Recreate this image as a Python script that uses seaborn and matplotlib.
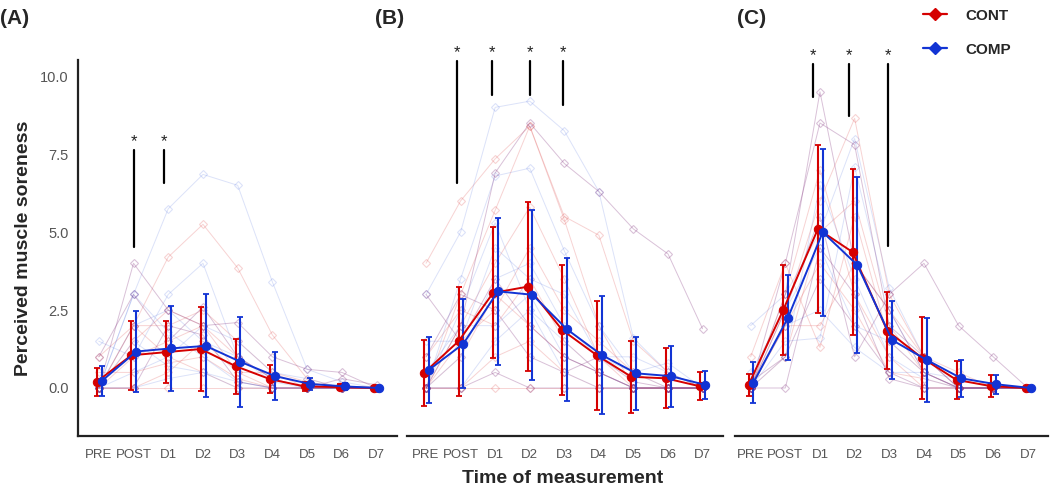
import numpy as np
import pandas as pd
import matplotlib.pyplot as plt
from matplotlib.lines import Line2D
import seaborn as sns

# time points
times = ["PRE", "POST", "D1", "D2", "D3", "D4", "D5", "D6", "D7"]
panels = ["(A)", "(B)", "(C)"]

# group means and SDs
cont_mean_a = [0.2, 1.05, 1.15, 1.25, 0.7, 0.28, 0.05, 0.03, 0.0]
cont_sd_a = [0.45, 1.1, 1.0, 1.35, 0.88, 0.45, 0.15, 0.1, 0.05]
comp_mean_a = [0.22, 1.17, 1.27, 1.35, 0.84, 0.38, 0.13, 0.05, 0.0]
comp_sd_a = [0.48, 1.3, 1.37, 1.65, 1.45, 0.78, 0.18, 0.12, 0.05]

cont_mean_b = [0.48, 1.5, 3.05, 3.25, 1.86, 1.05, 0.36, 0.31, 0.05]
cont_sd_b = [1.05, 1.75, 2.1, 2.7, 2.08, 1.75, 1.15, 0.96, 0.45]
comp_mean_b = [0.58, 1.42, 3.1, 2.99, 1.88, 1.06, 0.47, 0.38, 0.1]
comp_sd_b = [1.06, 1.42, 2.36, 2.72, 2.3, 1.88, 1.17, 0.98, 0.45]

cont_mean_c = [0.1, 2.5, 5.1, 4.36, 1.84, 0.97, 0.26, 0.06, 0.0]
cont_sd_c = [0.35, 1.45, 2.68, 2.65, 1.24, 1.32, 0.62, 0.36, 0.03]
comp_mean_c = [0.17, 2.26, 5.0, 3.94, 1.54, 0.9, 0.31, 0.12, 0.0]
comp_sd_c = [0.65, 1.36, 2.68, 2.82, 1.25, 1.36, 0.6, 0.3, 0.03]

# individual participants (CONT red, COMP blue, overlapping ones purple)
indiv_cont_a = [
    [0, 2.0, 4.2, 5.25, 3.85, 1.7, 0.3, 0, 0],
    [1.0, 2.0, 2.0, 2.5, 1.5, 0.5, 0, 0, 0],
    [0, 1.0, 1.5, 2.0, 1.0, 0.3, 0, 0, 0],
    [0, 0, 0.5, 1.5, 0.5, 0, 0, 0, 0],
    [0, 2.0, 1.0, 0.5, 0, 0, 0, 0, 0],
    [0.5, 0.5, 0.8, 1.0, 0.3, 0, 0, 0, 0],
    [0, 1.5, 2.5, 2.0, 0.5, 0.5, 0.2, 0, 0],
    [0, 0, 0, 0, 0, 0, 0, 0, 0],
]
indiv_comp_a = [
    [0, 3.0, 5.75, 6.85, 6.5, 3.4, 0.6, 0.2, 0],
    [1.5, 1.0, 3.0, 4.0, 1.0, 0.2, 0, 0, 0],
    [0, 3.0, 1.8, 1.0, 0.2, 0, 0, 0, 0],
    [0, 0.5, 1.0, 2.0, 1.5, 0.5, 0.3, 0, 0],
    [0, 1.5, 0.7, 0.5, 0, 0, 0, 0, 0],
    [0, 0, 0.3, 0.5, 0.2, 0, 0, 0, 0],
    [0, 2.0, 2.5, 1.5, 1.0, 0.3, 0, 0, 0],
]
indiv_mix_a = [
    [0, 4.0, 2.5, 2.0, 2.1, 1.0, 0.6, 0.5, 0],
    [1.0, 3.0, 1.5, 2.6, 1.0, 0.3, 0, 0.3, 0.1],
    [0, 0, 2.0, 1.7, 0.2, 0, 0, 0, 0],
]

indiv_cont_b = [
    [4.0, 6.0, 7.35, 8.4, 5.5, 4.9, 1.5, 0.5, 0],
    [0, 3.0, 5.7, 8.4, 5.4, 2.0, 0, 0, 0],
    [0, 2.0, 4.0, 5.8, 3.5, 1.0, 0, 0, 0],
    [0, 1.0, 3.0, 2.0, 1.0, 0.5, 0, 0, 0],
    [1.0, 2.5, 2.0, 3.5, 1.5, 0.5, 0, 0, 0],
    [0, 0, 1.0, 1.5, 0.5, 0, 0, 0, 0],
    [0, 1.5, 2.5, 4.5, 2.5, 1.5, 0.5, 0, 0],
    [0, 0, 0, 0, 0, 0, 0, 0, 0],
]
indiv_comp_b = [
    [3.0, 5.0, 9.0, 9.2, 8.25, 6.3, 1.6, 0.5, 0],
    [0, 3.5, 6.8, 7.05, 4.4, 2.0, 0.5, 0, 0],
    [0, 2.5, 5.3, 2.5, 1.5, 0.5, 0, 0, 0],
    [0, 1.0, 3.5, 4.0, 2.0, 1.0, 0.5, 0.8, 0],
    [0.5, 2.0, 2.0, 3.0, 1.0, 0.5, 0, 0, 0],
    [0, 0, 1.5, 2.5, 0.5, 0, 0, 0, 0],
    [1.5, 1.5, 4.5, 3.5, 3.0, 1.0, 1.0, 0.5, 0],
]
indiv_mix_b = [
    [0, 2.0, 6.9, 8.5, 7.2, 6.3, 5.1, 4.3, 1.9],
    [1.0, 3.0, 2.5, 1.0, 0.5, 1.0, 0.2, 0, 0],
    [0, 0, 0.5, 0, 0, 0, 0, 0, 0],
    [3.0, 1.5, 3.5, 2.0, 1.0, 0.5, 0, 0, 0],
]

indiv_cont_c = [
    [0, 2.5, 6.0, 8.65, 3.0, 1.0, 0, 0, 0],
    [1.0, 4.0, 1.3, 5.5, 1.5, 0.5, 0, 0, 0],
    [0, 2.0, 2.0, 4.0, 2.5, 1.0, 0.5, 0, 0],
    [0, 3.0, 7.0, 3.0, 1.0, 0, 0, 0, 0],
    [0, 1.0, 5.0, 6.0, 2.0, 0.5, 0, 0, 0],
    [0, 2.0, 4.0, 2.5, 0.5, 0.3, 0, 0, 0],
]
indiv_comp_c = [
    [2.0, 3.0, 5.0, 8.0, 3.2, 1.0, 0, 0, 0],
    [0, 1.5, 1.6, 7.1, 2.5, 0.5, 0, 0, 0],
    [0, 2.0, 2.5, 1.3, 0.5, 0.5, 0, 0, 0],
    [0, 1.0, 6.5, 3.5, 1.0, 0.3, 0, 0, 0],
    [0.5, 2.5, 4.5, 2.0, 1.5, 0.5, 0.3, 0, 0],
]
indiv_mix_c = [
    [0, 3.0, 9.5, 4.0, 2.5, 0.5, 0, 0, 0],
    [0, 4.0, 8.5, 7.8, 2.0, 1.0, 0, 0, 0],
    [0, 2.5, 5.5, 1.0, 3.0, 4.0, 2.0, 1.0, 0],
    [0, 0, 4.5, 3.0, 0.3, 0, 0, 0, 0],
    [0.2, 1.0, 3.5, 2.0, 0.5, 0, 0, 0, 0],
]

# significance bars: time position, bottom, top
sig_a = [(1.0, 4.53, 7.63), (1.88, 6.56, 7.63)]
sig_b = [(0.89, 6.58, 10.5), (1.9, 9.41, 10.5), (3.0, 9.41, 10.5), (3.96, 9.07, 10.5)]
sig_c = [(1.79, 9.34, 10.4), (2.85, 8.72, 10.4), (3.95, 4.55, 10.4)]

RED = "#d50000"
BLUE = "#1234d4"
indiv_colors = {"CONT": "#e05050", "COMP": "#5070e0", "MIX": "#8a3f86"}
indiv_alpha = {"CONT": 0.25, "COMP": 0.2, "MIX": 0.32}

sns.set_style("white")
plt.rcParams["font.family"] = ["Liberation Sans", "DejaVu Sans"]

fig = plt.figure(figsize=(10.52, 4.97), dpi=100)
boxes = [(0.0741, 0.303), (0.3869, 0.300), (0.6987, 0.2975)]
xlims = [(-0.6, 8.58), (-0.55, 8.58), (-0.45, 8.58)]

panel_data = [
    (cont_mean_a, cont_sd_a, comp_mean_a, comp_sd_a, indiv_cont_a, indiv_comp_a, indiv_mix_a, sig_a),
    (cont_mean_b, cont_sd_b, comp_mean_b, comp_sd_b, indiv_cont_b, indiv_comp_b, indiv_mix_b, sig_b),
    (cont_mean_c, cont_sd_c, comp_mean_c, comp_sd_c, indiv_cont_c, indiv_comp_c, indiv_mix_c, sig_c),
]

xpos = np.arange(len(times))

for i, (cm, cs, pm, ps, ic, ip, im, sig) in enumerate(panel_data):
    left, width = boxes[i]
    ax = fig.add_axes([left, 0.1227, width, 0.756])

    # individual trajectories
    rows = []
    for grp, lst in [("CONT", ic), ("COMP", ip), ("MIX", im)]:
        for s, vals in enumerate(lst):
            for t, v in enumerate(vals):
                rows.append({"group": grp, "subject": f"{grp}{s}", "x": t, "y": v})
    indiv = pd.DataFrame(rows)
    for grp in ["CONT", "COMP", "MIX"]:
        sub = indiv[indiv["group"] == grp]
        sns.lineplot(data=sub, x="x", y="y", units="subject", estimator=None,
                     color=indiv_colors[grp], alpha=indiv_alpha[grp], lw=0.7,
                     marker="D", markersize=4, markerfacecolor="none",
                     markeredgecolor=indiv_colors[grp], markeredgewidth=0.8,
                     ax=ax, legend=False)

    # group means with SD bars
    for mean, sd, col, off in [(cm, cs, RED, -0.06), (pm, ps, BLUE, 0.08)]:
        mdf = pd.DataFrame({"x": xpos + off, "y": mean})
        ax.errorbar(mdf["x"], mdf["y"], yerr=sd, fmt="none", ecolor=col,
                    elinewidth=1.5, capsize=2, capthick=1.3, zorder=4)
        sns.lineplot(data=mdf, x="x", y="y", color=col, lw=1.4, marker="o",
                     markersize=6, markeredgecolor=col, ax=ax, zorder=5)

    # significance markers
    for xs, y0, y1 in sig:
        ax.plot([xs, xs], [y0, y1], color="black", lw=1.6, clip_on=False, zorder=6)
        ax.text(xs, y1 + 0.02, "*", ha="center", va="bottom", fontsize=12,
                color="#222222", clip_on=False)

    ax.set_xlim(*xlims[i])
    ax.set_ylim(-1.54, 10.51)
    ax.set_xticks(xpos)
    ax.set_xticklabels(times, fontsize=9.5, color="#555555")
    ax.set_xlabel("")
    ax.set_ylabel("")
    ax.tick_params(axis="x", length=3, width=1.2, color="#222222", pad=6)
    sns.despine(ax=ax, top=True, right=True, left=(i > 0))
    ax.spines["bottom"].set_linewidth(1.6)
    ax.spines["bottom"].set_color("#222222")
    if i == 0:
        ax.set_yticks([0, 2.5, 5.0, 7.5, 10.0])
        ax.set_yticklabels(["0.0", "2.5", "5.0", "7.5", "10.0"], fontsize=10.5, color="#555555")
        ax.tick_params(axis="y", length=3, width=1.2, color="#222222")
        ax.spines["left"].set_linewidth(1.6)
        ax.spines["left"].set_color("#222222")
        ax.set_ylabel("Perceived muscle soreness", fontsize=14, fontweight="bold", labelpad=6)
    else:
        ax.set_yticks([])

fig.text(0.0, 0.963, "(A)", fontsize=15, fontweight="bold", ha="left", va="center")
fig.text(0.356, 0.963, "(B)", fontsize=15, fontweight="bold", ha="left", va="center")
fig.text(0.701, 0.963, "(C)", fontsize=15, fontweight="bold", ha="left", va="center")
fig.text(0.535, 0.038, "Time of measurement", fontsize=14, fontweight="bold", ha="center", va="center")

handles = [
    Line2D([], [], color=RED, marker="D", markersize=6, lw=1.6),
    Line2D([], [], color=BLUE, marker="D", markersize=6, lw=1.6),
]
fig.legend(handles, ["CONT", "COMP"], loc="upper left", bbox_to_anchor=(0.864, 1.01),
           frameon=False, handlelength=1.6, labelspacing=1.3, handletextpad=1.2,
           prop={"weight": "bold", "size": 11})

fig.savefig("out.png", dpi=100)
